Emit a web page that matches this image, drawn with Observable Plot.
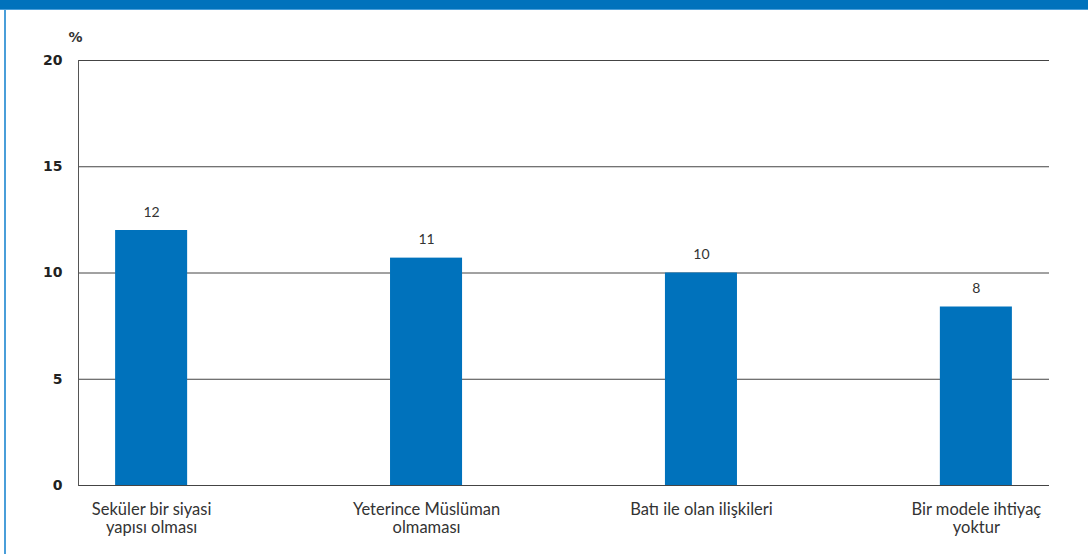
<!DOCTYPE html>
<html>
<head>
<meta charset="utf-8">
<script src="https://cdn.jsdelivr.net/npm/d3@7"></script>
<script src="https://cdn.jsdelivr.net/npm/@observablehq/plot@0.6"></script>
<style>
  html, body { margin: 0; padding: 0; background: #fff; }
  #wrap { position: relative; width: 1088px; height: 554px; overflow: hidden; }
  #band { position: absolute; left: 0; top: 0; width: 1088px; height: 9px; background: #0072BC; border-bottom: 1px solid #4A9ED9; }
  #leftline { position: absolute; left: 4px; top: 10px; width: 2px; height: 544px; background: #4A9ED9; }
  #chart { position: absolute; left: 0; top: 0; }
</style>
</head>
<body>
<div id="wrap">
  <div id="chart"></div>
  <div id="band"></div>
  <div id="leftline"></div>
</div>
<script>
const categories = [
  "Seküler bir siyasi\nyapısı olması",
  "Yeterince Müslüman\nolmaması",
  "Batı ile olan ilişkileri",
  "Bir modele ihtiyaç\nyoktur"
];
const values = [12, 10.7, 10, 8.4];
const valueLabels = ["12", "11", "10", "8"];
const yTicks = [0, 5, 10, 15, 20];
const unitLabel = ["%"];

const data = categories.map((c, i) => ({cat: c, value: values[i], label: valueLabels[i]}));

const chart = Plot.plot({
  width: 1088,
  height: 554,
  marginLeft: 78,
  marginRight: 39,
  marginTop: 60,
  marginBottom: 69,
  style: {fontFamily: "Lato, sans-serif", background: "transparent", color: "#333"},
  x: {domain: categories, paddingInner: 0.738, paddingOuter: 0.135, align: 0.5, round: false},
  y: {domain: [0, 20]},
  marks: [
    Plot.ruleY(yTicks, {stroke: "#444", strokeWidth: 1}),
    Plot.barY(data, {x: "cat", y: "value", fill: "#0072BC"}),
    Plot.frame({anchor: "left", stroke: "#555"}),
    Plot.axisY({
      ticks: yTicks, tickSize: 6, tickPadding: 10, label: null,
      fontSize: 14, fontWeight: "bold", fontFamily: "DejaVu Sans, sans-serif", fill: "#222", stroke: "none"
    }),
    Plot.axisX({
      tickSize: 0, tickPadding: 16, label: null, fontSize: 16.5,
      lineHeight: 1.12, fill: "#333"
    }),
    Plot.text(data, {x: "cat", y: "value", text: "label", lineAnchor: "bottom", dy: -14, fontSize: 14, fill: "#333"}),
    Plot.text(unitLabel, {frameAnchor: "top-left", text: d => d, dx: -3, dy: -19, lineAnchor: "bottom", fontSize: 14, fontWeight: "bold", fontFamily: "DejaVu Sans, sans-serif", fill: "#333", textAnchor: "middle"})
  ]
});
document.getElementById("chart").appendChild(chart);
</script>
</body>
</html>
